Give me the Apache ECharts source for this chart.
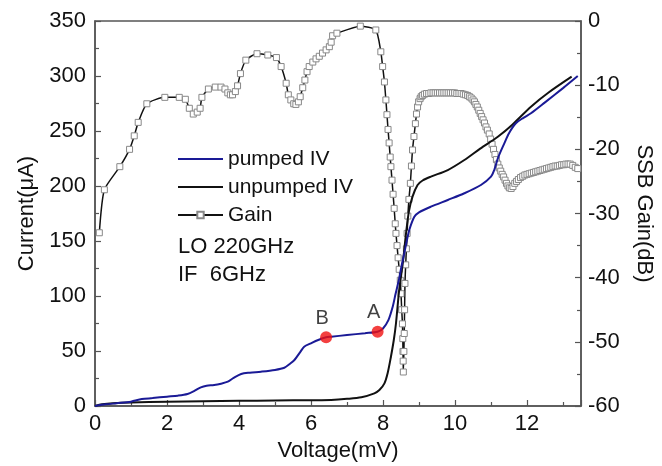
<!DOCTYPE html>
<html>
<head>
<meta charset="utf-8">
<script src="https://cdn.jsdelivr.net/npm/echarts@6/dist/echarts.min.js"></script>
<style>
  html, body { margin: 0; padding: 0; background: #fff; }
  #chart { width: 662px; height: 466px; }
</style>
</head>
<body>
<div id="chart"></div>
<script>
// 数据
var pumpedV = [0, 0.3, 0.6, 1.0, 1.15, 1.3, 1.6, 2.0, 2.3, 2.57, 2.75, 2.94, 3.1, 3.31, 3.5, 3.69, 3.85, 4.06, 4.3, 4.61, 5.0, 5.26, 5.4, 5.54, 5.7, 5.81, 6.0, 6.2, 6.42, 6.56, 7.0, 7.5, 7.85, 8.0, 8.15, 8.27, 8.35, 8.44, 8.52, 8.59, 8.66, 8.73, 8.87, 9.0, 9.33, 9.8, 10.26, 10.72, 11.0, 11.09, 11.2, 11.37, 11.5, 11.69, 11.9, 12.11, 12.5, 13.0, 13.41];
var pumpedI = [0, 1.5, 2.5, 3.9, 5.3, 6.3, 7.2, 8.5, 9.4, 10.9, 13.5, 17.0, 18.5, 19.1, 20.3, 22.1, 25.5, 29.1, 30.3, 31.2, 32.8, 34.8, 38, 41.8, 49, 53.9, 57.0, 60, 62.5, 63.0, 64.5, 66.2, 67.5, 70.5, 78, 90.3, 102, 114.5, 128, 138.8, 150, 160, 172, 176, 181.2, 187.3, 193.4, 200.9, 208.5, 214.5, 226, 238.8, 248, 257, 262, 266.1, 276, 289, 300];

var unpumpedV = [0, 0.2, 0.5, 1.0, 2.0, 3.0, 4.0, 5.0, 6.0, 6.56, 7.0, 7.4, 7.76, 7.9, 8.04, 8.13, 8.22, 8.3, 8.36, 8.45, 8.55, 8.64, 8.72, 8.82, 8.96, 9.1, 9.33, 9.8, 10.26, 10.7, 11.19, 11.6, 12.11, 12.6, 13.24];
var unpumpedI = [0, 1.5, 2.5, 3.2, 3.8, 4.3, 4.7, 5.0, 5.3, 5.5, 6.5, 8.0, 11.5, 14.5, 20.6, 30, 44.8, 60, 75, 105.5, 130, 157, 177, 190.3, 200.9, 205, 208.5, 214.5, 223.6, 234, 244.8, 256, 272.1, 285, 299.4];

var gainV = [0.12, 0.26, 0.69, 0.96, 1.09, 1.2, 1.44, 1.94, 2.34, 2.51, 2.62, 2.73, 2.84, 2.92, 2.97, 3.15, 3.34, 3.5, 3.61, 3.69, 3.76, 3.82, 3.9, 3.96, 4.04, 4.19, 4.5, 4.8, 5.04, 5.17, 5.31, 5.37, 5.44, 5.52, 5.58, 5.65, 5.7, 5.77, 5.83, 5.89, 5.95, 6.05, 6.14, 6.23, 6.32, 6.42, 6.51, 6.56, 6.6, 6.72, 7.37, 7.8, 7.94, 7.99, 8.04, 8.08,
  8.11, 8.14, 8.17, 8.2, 8.22, 8.25, 8.28, 8.31, 8.34, 8.36, 8.39, 8.42, 8.45, 8.48, 8.5, 8.52, 8.54, 8.55, 8.555, 8.56, 8.565,
  8.58, 8.59, 8.6, 8.61, 8.63, 8.65, 8.67, 8.69, 8.72, 8.76, 8.79, 8.82, 8.86, 8.9, 8.93, 8.96, 8.99, 9.03, 9.06, 9.1, 9.15,
  9.21, 9.27, 9.33, 9.39, 9.45, 9.51, 9.57, 9.63, 9.69, 9.75, 9.81, 9.87, 9.93, 9.99, 10.05, 10.11, 10.17, 10.23, 10.29, 10.35, 10.4, 10.45, 10.5, 10.54, 10.58, 10.62, 10.66, 10.7, 10.74, 10.78, 10.82, 10.86, 10.9, 10.95, 10.99, 11.03, 11.07, 11.11, 11.15, 11.19, 11.23, 11.27, 11.31, 11.35, 11.39, 11.43, 11.47, 11.51, 11.56, 11.61, 11.66, 11.71, 11.76, 11.82, 11.88, 11.94, 12.0, 12.06, 12.12, 12.18, 12.24, 12.3, 12.36, 12.42, 12.48, 12.54, 12.6, 12.66, 12.72, 12.78, 12.84, 12.9, 12.96, 13.02, 13.08, 13.14, 13.2, 13.27, 13.34, 13.41];
var gainDb = [-33.0, -26.3, -22.7, -20.0, -17.9, -15.8, -12.9, -11.9, -11.9, -12.2, -13.6, -14.5, -14.2, -13.6, -11.9, -10.6, -10.3, -10.3, -10.6, -11.2, -11.5, -11.5, -11.0, -10.1, -8.2, -6.1, -5.1, -5.3, -5.7, -7.1, -9.7, -11.5, -12.3, -12.9, -13.0, -12.6, -11.8, -10.4, -9.2, -7.9, -7.1, -6.4, -5.9, -5.5, -5.0, -4.5, -4.0, -3.3, -2.3, -1.9, -0.8, -1.4, -4.8, -7.1, -9.5, -12.3,
  -14.6, -16.9, -19.0, -21.2, -22.7, -24.8, -27.0, -29.2, -31.6, -33.1, -35.0, -36.9, -38.7, -40.4, -42.5, -45.0, -47.2, -49.5, -51.5, -53.0, -54.7,
  -51.5, -48.7, -45.0, -40.9, -38.0, -35.5, -33.1, -30.4, -27.8, -25.3, -22.6, -20.1, -18.0, -16.0, -14.5, -13.4, -12.6, -12.1, -11.8, -11.6, -11.4,
  -11.3, -11.3, -11.2, -11.2, -11.2, -11.2, -11.2, -11.2, -11.2, -11.2, -11.2, -11.2, -11.2, -11.2, -11.3, -11.3, -11.3, -11.4, -11.5, -11.6, -11.8, -12.0, -12.3, -12.6, -13.0, -13.4, -13.9, -14.4, -14.9, -15.4, -15.9, -16.5, -17.0, -17.6, -18.4, -19.2, -20.0, -20.8, -21.6, -22.3, -22.9, -23.4, -23.9, -24.3, -24.8, -25.3, -25.7, -26.0, -26.1, -25.8, -25.3, -25.0, -24.7, -24.4, -24.2, -24.0, -23.9, -23.8, -23.7, -23.6, -23.5, -23.4, -23.3, -23.2, -23.1, -23.0, -22.9, -22.8, -22.7, -22.6, -22.6, -22.5, -22.4, -22.4, -22.3, -22.3, -22.3, -22.5, -22.8, -23.0];

var pointNames = ['B', 'A'];
var pointV = [6.42, 7.85];
var pointI = [62.5, 67.5];

var xTicks = [0, 2, 4, 6, 8, 10, 12];
var currentTicks = [0, 50, 100, 150, 200, 250, 300, 350];
var gainTicks = [-60, -50, -40, -30, -20, -10, 0];

function zip(a, b) {
  return a.map(function (v, i) { return [v, b[i]]; });
}

var FONT = '"Liberation Sans", Arial, sans-serif';
var axisColor = '#555';

var chart = echarts.init(document.getElementById('chart'));

var axisCommon = {
  axisLine: { show: true, lineStyle: { color: axisColor, width: 1.5 } },
  axisTick: { show: true, inside: true, length: 6, lineStyle: { color: axisColor, width: 1.2 } },
  minorTick: { show: true, splitNumber: 2, length: 4, lineStyle: { color: axisColor, width: 1.2 } },
  splitLine: { show: false },
  axisLabel: { color: '#111', fontSize: 22, fontFamily: FONT },
  nameTextStyle: { color: '#111', fontSize: 22, fontFamily: FONT }
};

var option = {
  backgroundColor: '#fff',
  animation: false,
  grid: {
    left: 95, right: 81, top: 21, bottom: 60,
    outerBoundsMode: 'none',
    show: true, borderColor: axisColor, borderWidth: 1.5
  },
  legend: {
    data: [
      { name: 'pumped IV', itemStyle: { opacity: 0 } },
      { name: 'unpumped IV', itemStyle: { opacity: 0 } },
      { name: 'Gain' }
    ],
    orient: 'vertical',
    left: 172,
    top: 143,
    itemWidth: 45,
    itemHeight: 8,
    itemGap: 6,
    textStyle: { color: '#111', fontSize: 21, fontFamily: FONT, lineHeight: 22 }
  },
  xAxis: Object.assign({}, axisCommon, {
    type: 'value',
    min: 0,
    max: 13.5,
    interval: 2,
    name: 'Voltage(mV)',
    nameLocation: 'middle',
    nameGap: 34,
    axisLabel: Object.assign({}, axisCommon.axisLabel, { margin: 7, showMaxLabel: false })
  }),
  yAxis: [
    Object.assign({}, axisCommon, {
      type: 'value',
      min: currentTicks[0],
      max: currentTicks[currentTicks.length - 1],
      interval: 50,
      name: 'Current(μA)',
      nameLocation: 'middle',
      nameGap: 55,
      axisLabel: Object.assign({}, axisCommon.axisLabel, { margin: 9 })
    }),
    Object.assign({}, axisCommon, {
      type: 'value',
      position: 'right',
      min: gainTicks[0],
      max: gainTicks[gainTicks.length - 1],
      interval: 10,
      name: 'SSB Gain(dB)',
      nameLocation: 'middle',
      nameRotate: -90,
      nameGap: 52,
      axisLabel: Object.assign({}, axisCommon.axisLabel, { margin: 7 })
    })
  ],
  graphic: [{
    type: 'text',
    left: 178,
    top: 233,
    style: { text: 'LO 220GHz\nIF  6GHz', fill: '#111', font: '22px ' + FONT, lineHeight: 28 }
  }],
  series: [
    {
      name: 'Gain',
      type: 'line',
      yAxisIndex: 1,
      data: zip(gainV, gainDb),
      smooth: 0.2,
      symbol: 'rect',
      symbolSize: 6,
      showAllSymbol: true,
      lineStyle: { color: '#111', width: 1.5 },
      itemStyle: { color: '#fff', borderColor: '#888', borderWidth: 1 },
      z: 2
    },
    {
      name: 'unpumped IV',
      type: 'line',
      data: zip(unpumpedV, unpumpedI),
      smooth: 0.3,
      symbol: 'none',
      lineStyle: { color: '#111', width: 2 },
      itemStyle: { color: '#111' },
      z: 3
    },
    {
      name: 'pumped IV',
      type: 'line',
      data: zip(pumpedV, pumpedI),
      smooth: 0.3,
      symbol: 'none',
      lineStyle: { color: '#1a1a96', width: 2 },
      itemStyle: { color: '#1a1a96' },
      z: 4
    },
    {
      name: 'points',
      type: 'scatter',
      data: pointV.map(function (v, i) { return { name: pointNames[i], value: [v, pointI[i]] }; }),
      symbolSize: 12,
      itemStyle: { color: '#f01010' },
      label: {
        show: true,
        position: 'top',
        offset: [-4, 2],
        formatter: '{b}',
        color: '#111',
        fontSize: 20,
        fontFamily: FONT
      },
      z: 5
    }
  ]
};

chart.setOption(option);
</script>
</body>
</html>
